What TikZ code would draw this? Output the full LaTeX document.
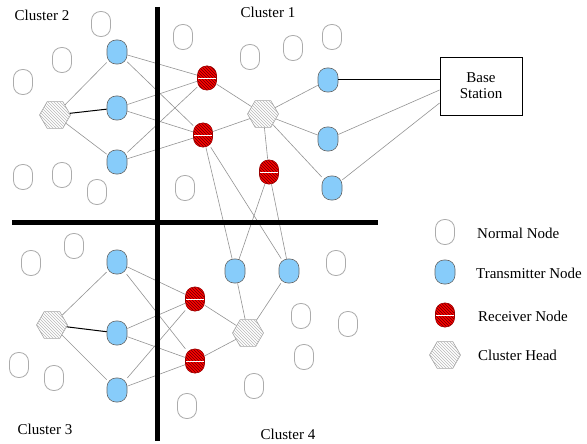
\documentclass[tikz,border=0pt]{standalone}
\usepackage{fontspec}
\setmainfont{Liberation Serif}
\usetikzlibrary{shapes.geometric,patterns}

\definecolor{txblue}{RGB}{135,204,250}

\tikzset{
  normal/.style={draw=gray!65, line width=0.8pt, fill=white, rounded corners=9pt, minimum width=19pt, minimum height=25pt, inner sep=0pt},
  trans/.style={draw=gray!80!black, line width=0.6pt, fill=txblue, rounded corners=9pt, minimum width=20pt, minimum height=24pt, inner sep=0pt},
  recv/.style={draw=red!60!black, line width=0.6pt, preaction={fill=red}, pattern=north west lines, pattern color=red!40!black, rounded corners=9pt, minimum width=19pt, minimum height=24pt, inner sep=0pt,
    path picture={\draw[white, line width=0.8pt] (path picture bounding box.west) -- (path picture bounding box.east);}},
  head/.style={regular polygon, regular polygon sides=6, minimum size=31pt, inner sep=0pt, draw=gray!70, line width=0.6pt, preaction={fill=white}, pattern=north west lines, pattern color=gray!55},
  link/.style={draw=gray!85, line width=0.6pt},
  blink/.style={draw=black, line width=1pt},
  wall/.style={draw=black, line width=5pt},
  lab/.style={font=\fontsize{15}{16}\selectfont, inner sep=0pt}
}

\begin{document}
\begin{tikzpicture}[x=1pt,y=-1pt]
\useasboundingbox (0,0) rectangle (587,444);

% cluster 2
\node[head] (h2) at (55,115) {};
\node[trans] (t2a) at (117,52) {};
\node[trans] (t2b) at (117,108) {};
\node[trans] (t2c) at (117,162) {};
\node[normal] (n1) at (101,24) {};
\node[normal] (n2) at (62,60) {};
\node[normal] (n3) at (23,82) {};
\node[normal] (n4) at (23,177) {};
\node[normal] (n5) at (62,175) {};
\node[normal] (n6) at (97,192) {};

% cluster 1
\node[head] (h1) at (263,114) {};
\node[recv] (r1a) at (207,78) {};
\node[recv] (r1b) at (203,135) {};
\node[recv] (r1c) at (269,172) {};
\node[trans] (t1a) at (328,80) {};
\node[trans] (t1b) at (328,139) {};
\node[trans] (t1c) at (332,188) {};
\node[normal] (n7) at (183,37) {};
\node[normal] (n8) at (250,57) {};
\node[normal] (n9) at (293,48) {};
\node[normal] (n10) at (332,37) {};
\node[normal] (n11) at (185,188) {};
\node[draw, line width=0.8pt, minimum width=82pt, minimum height=58pt, lab, align=center] (bs) at (481,86) {Base\\Station};

% cluster 3
\node[head] (h3) at (52,325) {};
\node[trans] (t3a) at (117,262) {};
\node[trans] (t3b) at (117,333) {};
\node[trans] (t3c) at (117,390) {};
\node[normal] (n12) at (31,263) {};
\node[normal] (n13) at (74,246) {};
\node[normal] (n14) at (19,365) {};
\node[normal] (n15) at (54,378) {};

% cluster 4
\node[head] (h4) at (248,333) {};
\node[recv] (r4a) at (195,299) {};
\node[recv] (r4b) at (195,361) {};
\node[trans] (t4a) at (235,271) {};
\node[trans] (t4b) at (289,271) {};
\node[normal] (n16) at (187,406) {};
\node[normal] (n17) at (254,386) {};
\node[normal] (n18) at (336,263) {};
\node[normal] (n19) at (301,316) {};
\node[normal] (n20) at (348,324) {};
\node[normal] (n21) at (304,357) {};

% labels
\node[lab] (c2) at (42,15) {Cluster 2};
\node[lab] (c1) at (268,12) {Cluster 1};
\node[lab] (c3) at (45,429) {Cluster 3};
\node[lab] (c4) at (288,434) {Cluster 4};

% legend
\node[normal] (l1) at (445,232) {};
\node[trans] (l2) at (445,272) {};
\node[recv] (l3) at (445,315) {};
\node[head] (l4) at (445,355) {};
\node[lab, anchor=west] (l1t) at (477,233) {Normal Node};
\node[lab, anchor=west] (l2t) at (476,273) {Transmitter Node};
\node[lab, anchor=west] (l3t) at (478,316) {Receiver Node};
\node[lab, anchor=west] (l4t) at (478,355) {Cluster Head};

% links cluster 2 -> 1
\draw[link] (h2) -- (t2a);
\draw[blink] (h2) -- (t2b);
\draw[link] (h2) -- (t2c);
\draw[link] (t2a) -- (r1a);   % 2a-1a
\draw[link] (t2a) -- (r1b);
\draw[link] (t2b) -- (r1a);
\draw[link] (t2b) -- (r1b);
\draw[link] (t2c) -- (r1a);
\draw[link] (t2c) -- (r1b);
\draw[link] (r1a) -- (h1);
\draw[link] (r1b) -- (h1);
\draw[link] (h1) -- (r1c);
\draw[link] (h1) -- (t1a);
\draw[link] (h1) -- (t1b);
\draw[link] (h1) -- (t1c);

% to base station
\draw[blink] (t1a) -- (bs.west |- t1a);
\draw[link] (t1b) -- ([yshift=-4pt]bs.west);
\draw[link] (t1c) -- ([yshift=-17pt]bs.west);

% cluster 1 -> 4
\draw[link] (r1b) -- (t4a);
\draw[link] (r1b) -- (t4b);
\draw[link] (r1c) -- (t4a);
\draw[link] (r1c) -- (t4b);

% links cluster 3 -> 4
\draw[link] (h3) -- (t3a);
\draw[blink] (h3) -- (t3b);
\draw[link] (h3) -- (t3c);
\draw[link] (t3a) -- (r4a);   % 3a-4a
\draw[link] (t3a) -- (r4b);
\draw[link] (t3b) -- (r4a);
\draw[link] (t3b) -- (r4b);
\draw[link] (t3c) -- (r4a);
\draw[link] (t3c) -- (r4b);
\draw[link] (r4a) -- (h4);
\draw[link] (r4b) -- (h4);
\draw[link] (h4) -- (t4a);
\draw[link] (h4) -- (t4b);

% cluster borders
\draw[wall] (157,7) -- (157,441);
\draw[wall] (12,222) -- (378,222);

\end{tikzpicture}
\end{document}
